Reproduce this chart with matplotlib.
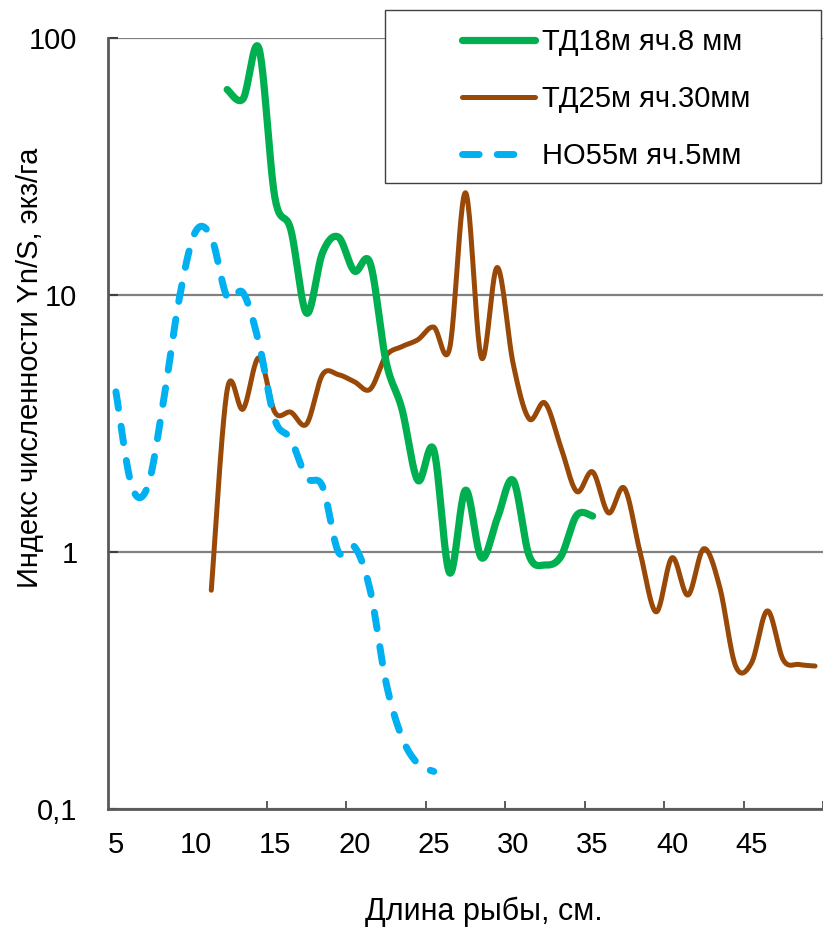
import numpy as np
import matplotlib
matplotlib.use("Agg")
import matplotlib.pyplot as plt
from matplotlib.patches import Rectangle
from matplotlib.lines import Line2D

plt.rcParams['font.family'] = ['Liberation Sans', 'DejaVu Sans']
plt.rcParams['font.size'] = 21

# fish length categories (cm) and abundance index for each gear
green_x = list(range(12, 36))
green_y = [63, 58, 91, 24, 18, 8.5, 14.6, 16.8, 12.4, 13.3, 5.5, 3.6,
           1.9, 2.5, 0.83, 1.74, 0.95, 1.35, 1.9, 0.97, 0.89, 0.96, 1.39, 1.38]

brown_x = list(range(11, 50))
brown_y = [0.71, 4.27, 3.6, 5.7, 3.5, 3.5, 3.15, 4.9, 4.9, 4.6, 4.3, 5.8,
           6.3, 6.7, 7.5, 6.2, 25, 5.7, 12.8, 5.4, 3.3, 3.8, 2.56, 1.72,
           2.05, 1.42, 1.77, 0.99, 0.585, 0.95, 0.68, 1.03, 0.73, 0.36,
           0.37, 0.59, 0.38, 0.365, 0.36]

blue_x = list(range(5, 26))
blue_y = [4.2, 1.8, 1.8, 3.9, 9.8, 17.6, 16.8, 9.8, 10.2, 6.5, 3.27, 2.75,
          1.95, 1.8, 1.0, 1.05, 0.71, 0.31, 0.19, 0.15, 0.14]

labels = ["ТД18м яч.8 мм", "ТД25м яч.30мм", "НО55м яч.5мм"]
x_ticklabels = [5, 10, 15, 20, 25, 30, 35, 40, 45]
y_ticks = [0.1, 1, 10, 100]
y_ticklabels = ["0,1", "1", "10", "100"]


def smooth(xs, ys, n=24):
    # excel-like smoothed line (catmull-rom in log space)
    x = np.asarray(xs, float)
    y = np.log10(np.asarray(ys, float))
    px = np.concatenate([[x[0]], x, [x[-1]]])
    py = np.concatenate([[y[0]], y, [y[-1]]])
    ox, oy = [], []
    t = np.linspace(0, 1, n, endpoint=False)
    for i in range(1, len(px) - 2):
        p0, p1, p2, p3 = px[i-1], px[i], px[i+1], px[i+2]
        q0, q1, q2, q3 = py[i-1], py[i], py[i+1], py[i+2]
        m1x, m2x = (p2 - p0) / 2, (p3 - p1) / 2
        m1y, m2y = (q2 - q0) / 2, (q3 - q1) / 2
        h00 = 2*t**3 - 3*t**2 + 1
        h10 = t**3 - 2*t**2 + t
        h01 = -2*t**3 + 3*t**2
        h11 = t**3 - t**2
        ox.append(h00*p1 + h10*m1x + h01*p2 + h11*m2x)
        oy.append(h00*q1 + h10*m1y + h01*q2 + h11*m2y)
    ox.append([x[-1]])
    oy.append([y[-1]])
    return np.concatenate(ox), 10 ** np.concatenate(oy)


fig = plt.figure(figsize=(8.23, 9.32), dpi=100)
ax = fig.add_axes([108/823, 1 - 809/932, 715/823, (809 - 38)/932])

gx, gy = smooth(green_x, green_y)
bx, by = smooth(brown_x, brown_y)
cx, cy = smooth(blue_x, blue_y)

l2, = ax.plot(bx, by, color='#984807', lw=3.6, solid_capstyle='round', zorder=3)
l1, = ax.plot(gx, gy, color='#00B050', lw=5.2, solid_capstyle='round', zorder=4)
l3, = ax.plot(cx, cy, color='#00B0F0', lw=5, dashes=(2.4, 2.6),
              dash_capstyle='round', zorder=5)

ax.set_yscale('log')
ax.set_ylim(0.1, 100)
ax.set_xlim(4.5, 49.35)

ax.set_yticks(y_ticks)
ax.set_yticklabels(y_ticklabels)
ax.yaxis.set_minor_locator(matplotlib.ticker.NullLocator())
ax.tick_params(axis='y', direction='in', length=7, width=1.5, color='#404040', pad=22)
ax.grid(axis='y', color='#808080', lw=1.6)

ax.set_xticks([k + 4.5 for k in x_ticklabels[1:]])
ax.set_xticklabels([])
ax.tick_params(axis='x', which='major', direction='in', length=6, width=1.2, color='#404040')
ax.set_xticks(x_ticklabels, minor=True)
ax.set_xticklabels([str(v) for v in x_ticklabels], minor=True)
ax.tick_params(axis='x', which='minor', length=0, pad=16)

for s in ['top', 'right']:
    ax.spines[s].set_visible(False)
for s in ['left', 'bottom']:
    ax.spines[s].set_color('#595959')
    ax.spines[s].set_linewidth(2)

fig.text(30/823, 1 - 368/932, "Индекс численности Yn/S, экз/га",
         rotation=90, ha='center', va='center')
fig.text(484/823, 1 - 912/932, "Длина рыбы, см.", ha='center', va='center',
         fontsize=22)

# legend box
fig.patches.append(Rectangle((385/823, 1 - 183/932), 436/823, 173/932,
                             transform=fig.transFigure, facecolor='white',
                             edgecolor='#404040', lw=1, zorder=10))
blue_handle = Line2D([], [], color='#00B0F0', lw=5, dashes=(2.4, 2.6, 2.4, 12),
                     dash_capstyle='round')
leg = fig.legend([l1, l2, blue_handle], labels, loc='upper left',
                 bbox_to_anchor=(462/823, 1 - 28/932), frameon=False,
                 borderpad=0, borderaxespad=0, handlelength=2.5,
                 handletextpad=0.25, labelspacing=1.0)
leg.set_zorder(11)

fig.savefig('out.png', dpi=100)
